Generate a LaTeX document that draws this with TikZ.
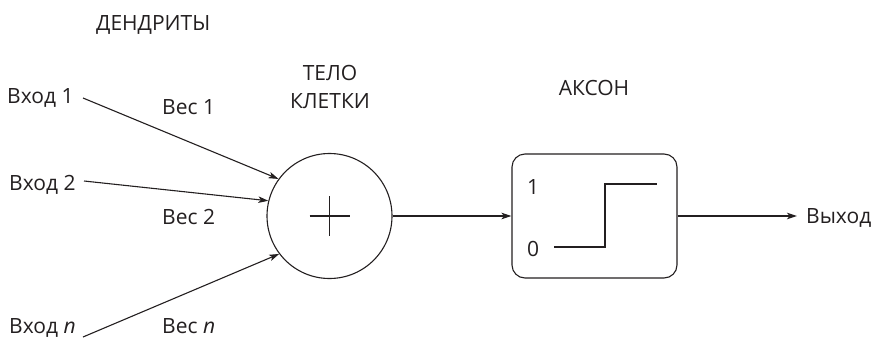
\documentclass[tikz,border=0pt]{standalone}
\usepackage{fontspec}
\setmainfont{Open Sans}
\usetikzlibrary{arrows.meta}
\definecolor{ink}{HTML}{231F20}
\begin{document}
\begin{tikzpicture}[x=1pt,y=-1pt,
  lbl/.style={font=\fontsize{21}{28}\selectfont, text=ink, inner sep=0pt},
  ln/.style={draw=ink, line width=1.1pt},
  arr/.style={ln, -{Stealth[length=10pt,width=6.5pt,inset=2.5pt]}}]
\useasboundingbox (0,0) rectangle (873,338);
% titles
\node[lbl, anchor=base west] (dend) at (96,30) {ДЕНДРИТЫ};
\node[lbl, anchor=base] (body1) at (330,80) {ТЕЛО};
\node[lbl, anchor=base] (body2) at (330,108) {КЛЕТКИ};
\node[lbl, anchor=base] (axt) at (594,95) {АКСОН};
% summation
\node[ln, circle, minimum size=125pt, inner sep=0pt] (sum) at (329.5,216) {};
\draw[ln] (sum.center) +(-20,0) -- +(20,0);
\draw[ln] (sum.center) +(0,-20) -- +(0,20);
% axon box
\node[ln, rounded corners=13pt, minimum width=165pt, minimum height=124pt, inner sep=0pt] (ax) at (594.5,216) {};
\draw[ln] ([shift={(-40.5,31)}]ax.center) -- ([shift={(10.5,31)}]ax.center) -- ([shift={(10.5,-32)}]ax.center) -- ([shift={(62.5,-32)}]ax.center);
\node[lbl, anchor=base] (one) at (533,194) {1};
\node[lbl, anchor=base] (zero) at (533,256.5) {0};
% inputs
\node[lbl, anchor=base west] (in1) at (7,103) {Вход 1};
\node[lbl, anchor=base west] (in2) at (9,190) {Вход 2};
\node[lbl, anchor=base west] (inn) at (9,333.5) {Вход \textit{n}};
\coordinate (s1) at (83,98);
\coordinate (s2) at (84,181);
\coordinate (sn) at (83,337);
\draw[arr] (s1) -- (sum.144.5);
\draw[arr] (s2) -- (sum.166.7);
\draw[arr] (sn) -- (sum.217.5);
% weights
\node[lbl, anchor=base west] (w1) at (162,114) {Вес 1};
\node[lbl, anchor=base west] (w2) at (162,224) {Вес 2};
\node[lbl, anchor=base west] (wn) at (162,333) {Вес \textit{n}};
% connections
\draw[arr] (sum.east) -- (ax.west);
\coordinate (outtip) at (797,216);
\node[lbl, anchor=base west] (out) at (806,223) {Выход};
\draw[arr] (ax.east) -- (outtip);
\end{tikzpicture}
\end{document}
